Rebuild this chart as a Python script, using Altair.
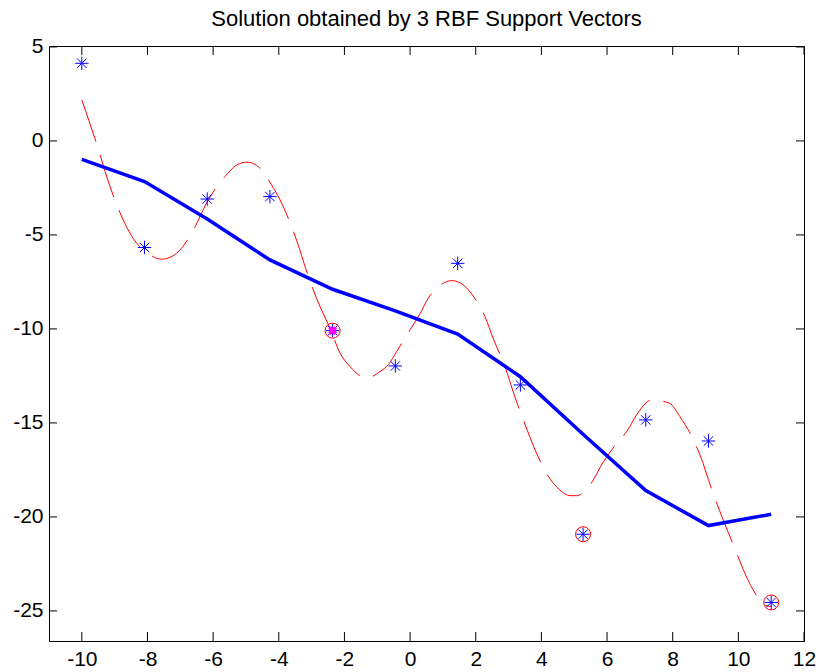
import altair as alt
import pandas as pd

# ---- data ----
sample_x = [-10.0, -8.09, -6.18, -4.27, -2.36, -0.45, 1.45, 3.36, 5.27, 7.18, 9.09, 11.0]
sample_y = [4.13, -5.67, -3.09, -2.96, -10.09, -11.97, -6.51, -12.98, -20.92, -14.84, -15.96, -24.55]
linear_y = [-0.98, -2.16, -4.15, -6.33, -7.89, -9.04, -10.27, -12.54, -15.6, -18.6, -20.46, -19.86]

sv_x = [-2.36, 5.27, 11.0]
sv_y = [-10.09, -20.92, -24.55]
hl_x = [-2.36]
hl_y = [-10.09]

rbf_x = [-10.0, -9.57, -9.14, -8.74, -8.33, -8.02, -7.57, -7.11, -6.6, -6.2, -5.64, -5.28,
         -4.98, -4.57, -4.22, -3.96, -3.46, -3.1, -2.85, -2.42, -2.12, -1.83, -1.53, -1.27,
         -0.92, -0.66, -0.41, 0.0, 0.3, 0.55, 0.81, 1.27, 1.62, 1.97, 2.28, 2.53, 2.89, 3.19,
         3.45, 3.85, 4.16, 4.56, 4.87, 5.07, 5.48, 5.88, 6.29, 6.6, 6.9, 7.36, 7.9, 8.22, 8.63,
         8.83, 9.23, 9.54, 9.95, 10.15, 10.45, 10.8, 11.0]
rbf_y = [2.18, -0.04, -2.43, -4.2, -5.44, -5.94, -6.29, -5.97, -4.73, -3.3, -1.9, -1.28,
         -1.13, -1.45, -2.34, -3.14, -5.27, -7.2, -8.37, -10.05, -11.33, -12.0, -12.48, -12.59,
         -12.27, -11.9, -11.2, -10.05, -9.2, -8.37, -7.84, -7.43, -7.66, -8.37, -9.34, -10.5,
         -12.0, -13.6, -14.84, -16.6, -17.7, -18.56, -18.87, -18.87, -18.3, -17.1, -16.1,
         -15.46, -14.57, -13.78, -13.95, -14.66, -15.9, -16.7, -18.74, -20.16, -21.93, -22.8,
         -23.88, -24.68, -24.77]

x_ticks = [-10, -8, -6, -4, -2, 0, 2, 4, 6, 8, 10, 12]
y_ticks = [-25, -20, -15, -10, -5, 0, 5]
title_text = "Solution obtained by 3 RBF Support Vectors"

# ---- tables ----
df_samples = pd.DataFrame({"x": sample_x, "y": sample_y, "lin": linear_y})
df_sv = pd.DataFrame({"x": sv_x, "y": sv_y})
df_hl = pd.DataFrame({"x": hl_x, "y": hl_y})
df_rbf = pd.DataFrame({"x": rbf_x, "y": rbf_y})
df_xt = pd.DataFrame({"t": x_ticks})
df_yt = pd.DataFrame({"t": y_ticks})

W, H = 755, 595
FONT = "Liberation Sans"
xs = alt.Scale(domain=[-11, 12], nice=False, zero=False)
ys = alt.Scale(domain=[-26.6, 5.05], nice=False, zero=False)
STAR = "M-1,0L1,0M0,-1L0,1M-0.7,-0.7L0.7,0.7M-0.7,0.7L0.7,-0.7"

x_axis = alt.Axis(values=x_ticks, title=None, ticks=False, tickSize=0, domain=False,
                  grid=False, labelFontSize=21, labelFont=FONT, labelColor="black",
                  labelPadding=7, labelFlush=False, labelOverlap=False,
                  labelExpr="'' + datum.value")
y_axis = alt.Axis(values=y_ticks, title=None, ticks=False, tickSize=0, domain=False,
                  grid=False, labelFontSize=21, labelFont=FONT, labelColor="black",
                  labelPadding=6, labelFlush=False, labelOverlap=False,
                  labelExpr="'' + datum.value")


def X(field):
    return alt.X(field, scale=xs, axis=x_axis)


def Y(field):
    return alt.Y(field, scale=ys, axis=y_axis)


red = alt.Chart(df_rbf).mark_line(color="#ff0000", strokeWidth=1, strokeDash=[44, 14],
                                  interpolate="monotone").encode(
    x=X("x:Q"), y=Y("y:Q"))

blue = alt.Chart(df_samples).mark_line(color="#0000ff", strokeWidth=3.5).encode(
    x=X("x:Q"), y=Y("lin:Q"))

stars = alt.Chart(df_samples).mark_point(shape=STAR, filled=False, stroke="#0000ff",
                                         strokeWidth=1, size=180, opacity=1).encode(
    x=X("x:Q"), y=Y("y:Q"))

hl = alt.Chart(df_hl).mark_point(shape="cross", angle=45, filled=True, color="#ff00ff",
                                 size=80, opacity=1).encode(
    x=X("x:Q"), y=Y("y:Q"))

circles = alt.Chart(df_sv).mark_point(shape="circle", filled=False, stroke="#ff0000",
                                      strokeWidth=1, size=225, opacity=1).encode(
    x=X("x:Q"), y=Y("y:Q"))

xt_bottom = alt.Chart(df_xt).mark_rule(color="black", strokeWidth=1).encode(
    x=X("t:Q"), y=alt.value(H), y2=alt.value(H - 9))
xt_top = alt.Chart(df_xt).mark_rule(color="black", strokeWidth=1).encode(
    x=X("t:Q"), y=alt.value(0), y2=alt.value(9))
yt_left = alt.Chart(df_yt).mark_rule(color="black", strokeWidth=1).encode(
    y=Y("t:Q"), x=alt.value(0), x2=alt.value(8))
yt_right = alt.Chart(df_yt).mark_rule(color="black", strokeWidth=1).encode(
    y=Y("t:Q"), x=alt.value(W), x2=alt.value(W - 8))

chart = alt.layer(
    red, blue, stars, hl, circles, xt_bottom, xt_top, yt_left, yt_right
).properties(
    width=W, height=H,
    title=alt.TitleParams(title_text, fontSize=22, font=FONT, fontWeight="normal",
                          color="black", anchor="middle", offset=5),
    autosize=alt.AutoSizeParams(type="none"),
    padding={"left": 49, "top": 46, "right": 17, "bottom": 31},
    background="white",
).configure_view(stroke="black", strokeWidth=1)

chart.save("out.html", embed_options={"renderer": "svg", "actions": False})
